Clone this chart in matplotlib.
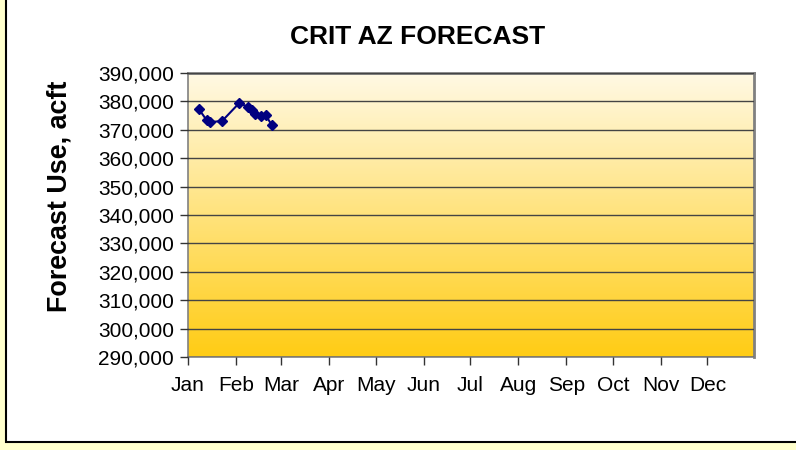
import matplotlib
matplotlib.use("Agg")
import matplotlib.pyplot as plt
import matplotlib.dates as mdates
from matplotlib.patches import Rectangle
from matplotlib.ticker import FuncFormatter
import numpy as np
import datetime as dt

dates = ["2008-01-08", "2008-01-13", "2008-01-15", "2008-01-23", "2008-02-03",
         "2008-02-09", "2008-02-11", "2008-02-13", "2008-02-17", "2008-02-20",
         "2008-02-24"]
values = [377300, 373400, 372700, 373100, 379400, 378000, 377000, 375600,
          374900, 375200, 371700]
month_labels = ["Jan", "Feb", "Mar", "Apr", "May", "Jun", "Jul", "Aug", "Sep",
                "Oct", "Nov", "Dec"]
title = "CRIT AZ FORECAST"
ylabel = "Forecast Use, acft"

plt.rcParams['font.family'] = ['Liberation Sans', 'DejaVu Sans']

fig = plt.figure(figsize=(7.96, 4.5), dpi=100, facecolor="#FFFFCC")
fig.patches.append(Rectangle((6/796, 1 - 442/450), 1.0, 1.0, transform=fig.transFigure,
                             facecolor="white", edgecolor="black", linewidth=1.5,
                             zorder=-5))

ax = fig.add_axes([188/796, 1 - 357/450, 566/796, 284/450])
ax.set_zorder(2)

x = [mdates.date2num(dt.datetime.strptime(d, "%Y-%m-%d")) for d in dates]
x0 = mdates.date2num(dt.datetime(2008, 1, 1))
x1 = mdates.date2num(dt.datetime(2008, 12, 31))
ymin, ymax = 290000, 390000

# gradient background
top = np.array([255, 249, 228]) / 255
bot = np.array([255, 204, 20]) / 255
t = np.linspace(0, 1, 256)[:, None]
grad = (top[None, :] * (1 - t) + bot[None, :] * t)[:, None, :]
ax.imshow(grad, extent=[x0, x1, ymin, ymax], aspect="auto", zorder=0,
          interpolation="bilinear", origin="upper")
ax.set_xlim(x0, x1)
ax.set_ylim(ymin, ymax)

ax.set_yticks(np.arange(ymin, ymax + 1, 10000))
ax.yaxis.set_major_formatter(FuncFormatter(lambda v, p: f"{int(v):,}"))
ax.grid(axis="y", color="#444444", linewidth=1.0, zorder=1)
ax.set_axisbelow(False)

month_ticks = [mdates.date2num(dt.datetime(2008, m, 1)) for m in range(1, 13)]
ax.set_xticks(month_ticks)
ax.set_xticklabels(month_labels)

ax.plot(x, values, color="#000080", linewidth=1.5, marker="D", markersize=5.5,
        markerfacecolor="#000080", markeredgecolor="#000080", zorder=3)

for s in ["top", "right"]:
    ax.spines[s].set_color("#808080")
    ax.spines[s].set_linewidth(2)
for s in ["left", "bottom"]:
    ax.spines[s].set_color("#808080")
    ax.spines[s].set_linewidth(1.2)

ax.tick_params(axis="both", direction="out", length=6, width=1, color="#333333",
               labelsize=15, labelcolor="black")
ax.tick_params(axis="y", pad=4)
ax.tick_params(axis="x", pad=8)

fig.text(418/796, 1 - 37/450, title, ha="center", va="center", fontsize=19,
         fontweight="bold")
fig.text(60/796, 1 - 196/450, ylabel, ha="center", va="center", rotation=90,
         fontsize=19.4, fontweight="bold")

fig.savefig("out.png", dpi=100, facecolor=fig.get_facecolor())
